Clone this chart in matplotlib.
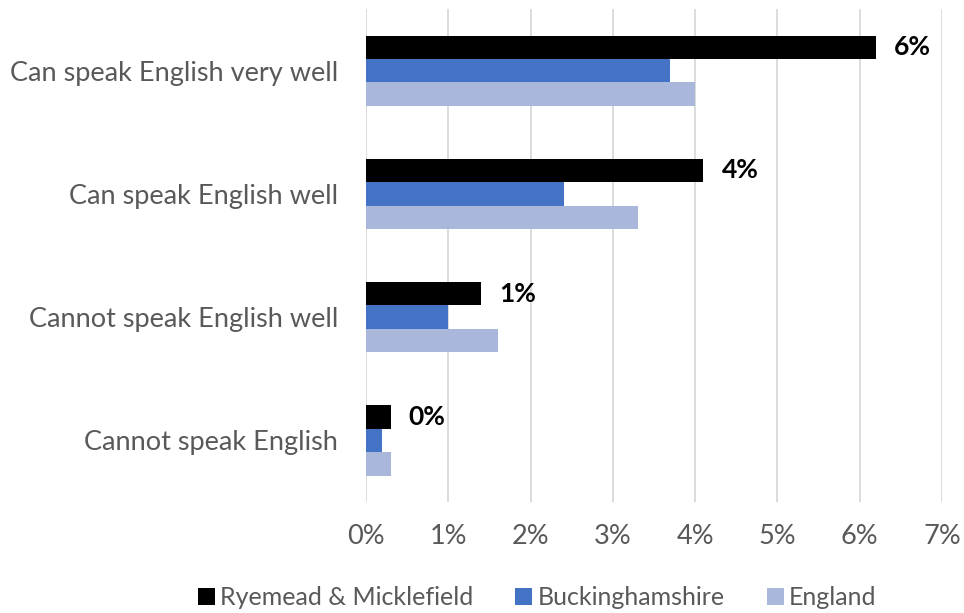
import numpy as np
import matplotlib.pyplot as plt
from matplotlib.ticker import FuncFormatter

plt.rcParams['font.family'] = ['Lato', 'DejaVu Sans']

categories = ['Can speak English very well', 'Can speak English well',
              'Cannot speak English well', 'Cannot speak English']
series_names = ['Ryemead & Micklefield', 'Buckinghamshire', 'England']
ryemead = [6.2, 4.1, 1.4, 0.3]
bucks = [3.7, 2.4, 1.0, 0.2]
england = [4.0, 3.3, 1.6, 0.3]
colors = ['#000000', '#4472C4', '#A9B7DB']

fig = plt.figure(figsize=(9.64, 6.13), dpi=100)
ax = fig.add_axes([0.3797, 0.181, 0.5975, 0.8043])

y = np.arange(len(categories))
h = 0.19
for i, (vals, name, c) in enumerate(zip([ryemead, bucks, england], series_names, colors)):
    ax.barh(y + (i - 1) * h, vals, height=h, color=c, label=name, zorder=3)

# value labels on the first series only
for yi, v in zip(y, ryemead):
    ax.annotate(f'{v:.0f}%', (v, yi - h), xytext=(13, 0), textcoords='offset points',
                va='center', ha='left', fontsize=19, fontweight='bold', color='black')

ax.set_xlim(0, 7)
ax.set_ylim(3.5, -0.5)
ax.set_xticks(range(0, 8))
ax.xaxis.set_major_formatter(FuncFormatter(lambda v, p: f'{v:.0f}%'))
ax.set_yticks(y)
ax.set_yticklabels(categories)
ax.tick_params(axis='both', length=0, labelsize=19.5, colors='#595959')
ax.tick_params(axis='x', pad=16)
ax.tick_params(axis='y', pad=20)
ax.grid(axis='x', color='#D9D9D9', linewidth=1.3, zorder=0)
for s in ax.spines.values():
    s.set_visible(False)

fig.legend(loc='center', bbox_to_anchor=(0.557, 0.025), ncol=3, frameon=False,
           fontsize=18, handlelength=0.68, handleheight=0.68, handletextpad=0.2,
           columnspacing=1.7, labelcolor='#595959')

fig.savefig('out.png', dpi=100)
